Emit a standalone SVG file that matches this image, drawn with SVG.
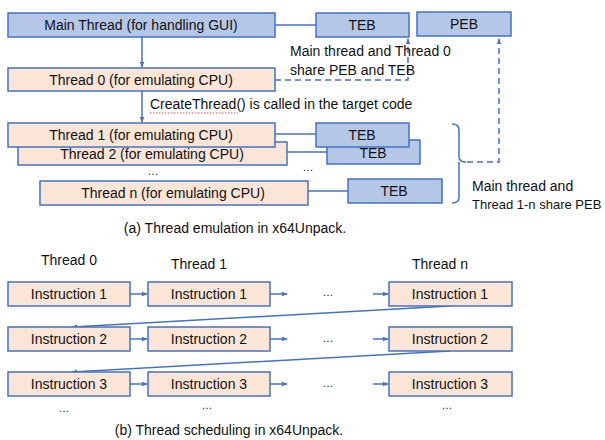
<svg xmlns="http://www.w3.org/2000/svg" width="605" height="440" viewBox="0 0 605 440">
  <defs>
    <style>
      .blue { fill: #b4c7e7; stroke: #4472c4; stroke-width: 1.5; }
      .peach { fill: #fbe5d6; stroke: #4472c4; stroke-width: 1.5; }
      .ln { fill: none; stroke: #4472c4; stroke-width: 1.5; }
      .dash { fill: none; stroke: #4472c4; stroke-width: 1.5; stroke-dasharray: 6 4; }
      text { font-family: "Liberation Sans", Arial, sans-serif; font-size: 14px; fill: #111; }
      .c { text-anchor: middle; dominant-baseline: central; }
      .dots { font-size: 11px; }
      .note { font-size: 13px; }
    </style>
    <marker id="ah" viewBox="0 0 8 8" refX="7" refY="4" markerWidth="6" markerHeight="6" orient="auto" markerUnits="userSpaceOnUse">
      <path d="M0,1 L8,4 L0,7 z" fill="#4472c4"/>
    </marker>
  </defs>

  <!-- connectors -->
  <g id="connectors">
    <line class="ln" x1="142" y1="37" x2="142" y2="67" marker-end="url(#ah)"/>
    <line class="ln" x1="275" y1="25" x2="316" y2="25"/>
    <line class="ln" x1="142" y1="91" x2="142" y2="122" marker-end="url(#ah)"/>
    <polyline class="dash" points="275,80 408,80 408,39" marker-end="url(#ah)"/>
    <line class="ln" x1="275" y1="134" x2="316" y2="134"/>
    <line class="ln" x1="287" y1="152" x2="327" y2="152"/>
    <line class="ln" x1="308" y1="191" x2="348" y2="191"/>
    <path class="ln" d="M452,124 Q459,124 459,130 L459,157 Q459,162 466,162 M459,162 L459,197 Q459,203 452,203"/>
    <polyline class="dash" points="467,162 499,162 499,39" marker-end="url(#ah)"/>
    <!-- instruction flow -->
    <line class="ln" x1="130" y1="294" x2="147" y2="294" marker-end="url(#ah)"/>
    <line class="ln" x1="270" y1="294" x2="287" y2="294" marker-end="url(#ah)"/>
    <line class="ln" x1="373" y1="294" x2="388" y2="294" marker-end="url(#ah)"/>
    <line class="ln" x1="130" y1="339" x2="147" y2="339" marker-end="url(#ah)"/>
    <line class="ln" x1="270" y1="339" x2="287" y2="339" marker-end="url(#ah)"/>
    <line class="ln" x1="373" y1="339" x2="388" y2="339" marker-end="url(#ah)"/>
    <line class="ln" x1="130" y1="384" x2="147" y2="384" marker-end="url(#ah)"/>
    <line class="ln" x1="270" y1="384" x2="287" y2="384" marker-end="url(#ah)"/>
    <line class="ln" x1="373" y1="384" x2="388" y2="384" marker-end="url(#ah)"/>
    <line class="ln" x1="450" y1="306" x2="72" y2="327" marker-end="url(#ah)"/>
    <line class="ln" x1="450" y1="351" x2="72" y2="372" marker-end="url(#ah)"/>
  </g>

  <!-- (a) thread emulation -->
  <g id="main-thread">
    <rect class="blue" x="8" y="13" width="267" height="24"/>
    <text class="c" x="141" y="25">Main Thread (for handling GUI)</text>
  </g>
  <g id="teb-main">
    <rect class="blue" x="316" y="13" width="93" height="24"/>
    <text class="c" x="362" y="25">TEB</text>
  </g>
  <g id="peb">
    <rect class="blue" x="417" y="12" width="94" height="24"/>
    <text class="c" x="464" y="24">PEB</text>
  </g>
  <g id="share-note-0">
    <text x="290" y="56">Main thread and Thread 0</text>
    <text x="290" y="75">share PEB and TEB</text>
  </g>
  <g id="thread-0">
    <rect class="peach" x="8" y="68" width="267" height="23"/>
    <text class="c" x="141" y="80">Thread 0 (for emulating CPU)</text>
  </g>
  <g id="create-note">
    <text x="150" y="109">CreateThread() is called in the target code</text>
    <line x1="150" y1="113" x2="238" y2="113" stroke="#e05050" stroke-width="1" stroke-dasharray="1.5 1.5"/>
  </g>
  <g id="thread-2">
    <rect class="peach" x="18" y="142" width="269" height="23"/>
    <text class="c" x="152" y="154">Thread 2 (for emulating CPU)</text>
  </g>
  <g id="thread-1">
    <rect class="peach" x="8" y="123" width="267" height="24"/>
    <text class="c" x="141" y="135">Thread 1 (for emulating CPU)</text>
  </g>
  <g id="teb-2">
    <rect class="blue" x="327" y="140" width="93" height="24"/>
    <text class="c" x="373" y="153">TEB</text>
  </g>
  <g id="teb-1">
    <rect class="blue" x="316" y="123" width="93" height="24"/>
    <text class="c" x="362" y="135">TEB</text>
  </g>
  <text class="c dots" x="153" y="171">…</text>
  <text class="c dots" x="308" y="167">…</text>
  <g id="thread-n">
    <rect class="peach" x="40" y="181" width="268" height="24"/>
    <text class="c" x="173" y="193">Thread n (for emulating CPU)</text>
  </g>
  <g id="teb-n">
    <rect class="blue" x="348" y="179" width="94" height="24"/>
    <text class="c" x="394" y="191">TEB</text>
  </g>
  <g id="share-note-n">
    <text x="472" y="191">Main thread and</text>
    <text class="note" x="472" y="209">Thread 1-n share PEB</text>
  </g>
  <text class="c" x="235" y="228">(a) Thread emulation in x64Unpack.</text>

  <!-- (b) thread scheduling -->
  <text class="c" x="69" y="260">Thread 0</text>
  <text class="c" x="199" y="264">Thread 1</text>
  <text class="c" x="440" y="264">Thread n</text>

  <g id="t0-i1"><rect class="peach" x="8" y="282" width="122" height="24"/><text class="c" x="69" y="294">Instruction 1</text></g>
  <g id="t1-i1"><rect class="peach" x="148" y="282" width="122" height="24"/><text class="c" x="209" y="294">Instruction 1</text></g>
  <g id="tn-i1"><rect class="peach" x="389" y="282" width="123" height="24"/><text class="c" x="450" y="294">Instruction 1</text></g>
  <g id="t0-i2"><rect class="peach" x="8" y="327" width="122" height="24"/><text class="c" x="69" y="339">Instruction 2</text></g>
  <g id="t1-i2"><rect class="peach" x="148" y="327" width="122" height="24"/><text class="c" x="209" y="339">Instruction 2</text></g>
  <g id="tn-i2"><rect class="peach" x="389" y="327" width="123" height="24"/><text class="c" x="450" y="339">Instruction 2</text></g>
  <g id="t0-i3"><rect class="peach" x="8" y="372" width="122" height="24"/><text class="c" x="69" y="384">Instruction 3</text></g>
  <g id="t1-i3"><rect class="peach" x="148" y="372" width="122" height="24"/><text class="c" x="209" y="384">Instruction 3</text></g>
  <g id="tn-i3"><rect class="peach" x="389" y="372" width="123" height="24"/><text class="c" x="450" y="384">Instruction 3</text></g>

  <text class="c dots" x="328" y="292">…</text>
  <text class="c dots" x="328" y="338">…</text>
  <text class="c dots" x="328" y="383">…</text>
  <text class="c dots" x="64" y="408">…</text>
  <text class="c dots" x="207" y="405">…</text>
  <text class="c dots" x="447" y="405">…</text>

  <text class="c" x="229" y="430">(b) Thread scheduling in x64Unpack.</text>
</svg>
